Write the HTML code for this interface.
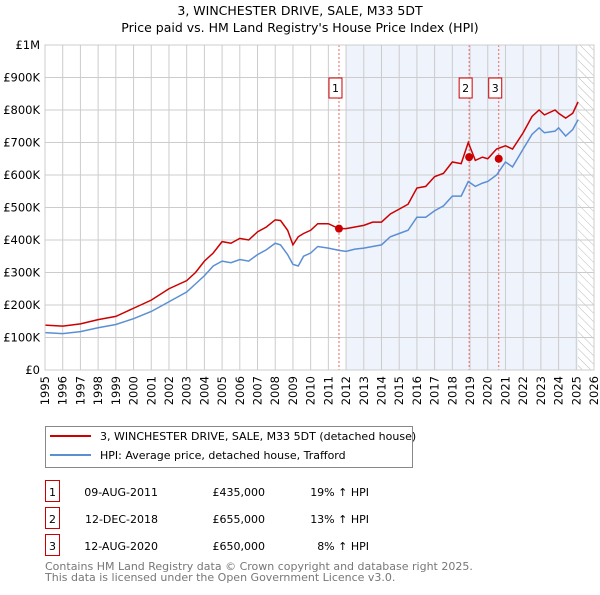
<!DOCTYPE html>
<html><head><meta charset="utf-8"><style>
body{margin:0;background:#fff;font-family:"Liberation Sans","DejaVu Sans",sans-serif;}
svg text{font-family:"DejaVu Sans","Liberation Sans",sans-serif;}
</style></head><body>
<svg id="c" width="600" height="590" xmlns="http://www.w3.org/2000/svg">
<defs><pattern id="hatch" width="6" height="6" patternUnits="userSpaceOnUse" patternTransform="rotate(-45)"><line x1="0" y1="0" x2="0" y2="6" stroke="#bbb" stroke-width="1"/></pattern></defs>
<text x="300" y="15" text-anchor="middle" font-size="12.5">3, WINCHESTER DRIVE, SALE, M33 5DT</text>
<text x="300" y="32" text-anchor="middle" font-size="12.5">Price paid vs. HM Land Registry's House Price Index (HPI)</text>
<g id="plot"></g>
<g>
<rect x="45.5" y="426.5" width="367" height="41" fill="#fff" stroke="#888"/>
<line x1="50" y1="436" x2="91" y2="436" stroke="#cc0000" stroke-width="2"/>
<text x="100" y="440" font-size="11">3, WINCHESTER DRIVE, SALE, M33 5DT (detached house)</text>
<line x1="50" y1="455" x2="91" y2="455" stroke="#5b8fd4" stroke-width="2"/>
<text x="100" y="459" font-size="11">HPI: Average price, detached house, Trafford</text>
</g>
<g id="table" font-size="11"></g>
<text x="45" y="570" font-size="11" fill="#777">Contains HM Land Registry data © Crown copyright and database right 2025.</text>
<text x="45" y="581" font-size="11" fill="#777">This data is licensed under the Open Government Licence v3.0.</text>
</svg>
<script>
const yTicks=[0,100,200,300,400,500,600,700,800,900,1000];
const yTickLabels=["£0","£100K","£200K","£300K","£400K","£500K","£600K","£700K","£800K","£900K","£1M"];
const years=[1995,1996,1997,1998,1999,2000,2001,2002,2003,2004,2005,2006,2007,2008,2009,2010,2011,2012,2013,2014,2015,2016,2017,2018,2019,2020,2021,2022,2023,2024,2025,2026];
const hpiT=[1995,1996,1997,1998,1999,2000,2001,2002,2003,2003.5,2004,2004.5,2005,2005.5,2006,2006.5,2007,2007.5,2008,2008.3,2008.7,2009,2009.3,2009.6,2010,2010.4,2011,2011.6,2012,2012.5,2013,2013.5,2014,2014.5,2015,2015.5,2016,2016.5,2017,2017.5,2018,2018.5,2018.9,2019.3,2019.7,2020,2020.5,2021,2021.4,2022,2022.5,2022.9,2023.2,2023.8,2024,2024.4,2024.8,2025.1];
const hpiV=[115,112,118,130,140,158,180,210,240,265,290,320,335,330,340,335,355,370,390,385,355,325,320,350,360,380,375,368,365,372,375,380,385,410,420,430,470,470,490,505,535,535,580,565,575,580,600,640,625,680,725,745,730,735,745,720,740,770];
const priceT=hpiT;
const priceV=[138,135,142,155,165,190,215,250,275,300,335,360,395,390,405,400,425,440,462,460,430,385,410,420,430,450,450,435,435,440,445,455,455,480,495,510,560,565,595,605,640,635,700,645,655,650,680,690,680,730,780,800,785,800,790,775,790,825];
const saleT=[2011.6,2018.95,2020.62];
const saleV=[435,655,650];
const saleLabels=["1","2","3"];
const saleDates=["09-AUG-2011","12-DEC-2018","12-AUG-2020"];
const salePrices=["£435,000","£655,000","£650,000"];
const saleHpi=["19% ↑ HPI","13% ↑ HPI","8% ↑ HPI"];
const X0=45,X1=594,Y0=370,Y1=45;
const x=t=>X0+(t-1995)/(2026-1995)*(X1-X0);
const y=v=>Y0-v/1000*(Y0-Y1);
const NS="http://www.w3.org/2000/svg";
const plot=document.getElementById('plot');
function mk(tag,attrs,parent){const e=document.createElementNS(NS,tag);for(const k in attrs)e.setAttribute(k,attrs[k]);(parent||plot).appendChild(e);return e;}
let e;
e=mk('rect',{x:x(2012),y:Y1,width:x(2025.1)-x(2012),height:Y0-Y1,fill:'#eef3fc'});


e=mk('rect',{x:x(2025.1),y:Y1,width:X1-x(2025.1),height:Y0-Y1,fill:'url(#hatch)'});


years.forEach(yr=>{
 e=mk('line',{x1:x(yr),x2:x(yr),y1:Y1,y2:Y0,stroke:'#ccc','stroke-width':1});
 
 
 e=mk('text',{transform:`translate(${x(yr)+4},${Y0+6}) rotate(-90)`,'text-anchor':'end','font-size':11.5});
 e.textContent=yr;
 
 
});
yTicks.forEach((v,i)=>{
 e=mk('line',{x1:X0,x2:X1,y1:y(v),y2:y(v),stroke:'#ccc','stroke-width':1});
 
 
 e=mk('text',{x:X0-5,y:y(v)+4,'text-anchor':'end','font-size':11.5});
 e.textContent=yTickLabels[i];
 
 
});
saleT.forEach((t,i)=>{
 e=mk('line',{x1:x(t),x2:x(t),y1:Y1,y2:Y0,stroke:'#e66','stroke-width':1,'stroke-dasharray':'2,2'});
 
 
});
e=mk('polyline',{points:hpiT.map((t,i)=>x(t)+','+y(hpiV[i])).join(' '),fill:'none',stroke:'#5b8fd4','stroke-width':1.5});


e=mk('polyline',{points:priceT.map((t,i)=>x(t)+','+y(priceV[i])).join(' '),fill:'none',stroke:'#cc0000','stroke-width':1.5});


saleT.forEach((t,i)=>{
 e=mk('circle',{cx:x(t),cy:y(saleV[i]),r:4,fill:'#cc0000'});
 
 
 const g=mk('g',{});
 
 
 mk('rect',{x:x(t)-10,y:78,width:13,height:20,fill:'#fff',stroke:'#cc0000'},g);
 const tx=mk('text',{x:x(t)-3.5,y:92,'text-anchor':'middle','font-size':11},g);
 tx.textContent=saleLabels[i];
});
e=mk('rect',{x:X0,y:Y1,width:X1-X0,height:Y0-Y1,fill:'none',stroke:'#ccc'});


const tbl=document.getElementById('table');
const rowY=[492,519,546];
saleT.forEach((t,i)=>{
 const g=mk('g',{},tbl);
 
 
 mk('rect',{x:45.5,y:rowY[i]-11.5,width:14,height:21,fill:'#fff',stroke:'#cc0000'},g);
 let tx=mk('text',{x:52.5,y:rowY[i]+4,'text-anchor':'middle'},g);tx.textContent=saleLabels[i];
 tx=mk('text',{x:158,y:rowY[i]+4,'text-anchor':'end'},g);tx.textContent=saleDates[i];
 tx=mk('text',{x:265,y:rowY[i]+4,'text-anchor':'end'},g);tx.textContent=salePrices[i];
 tx=mk('text',{x:369,y:rowY[i]+4,'text-anchor':'end'},g);tx.textContent=saleHpi[i];
});
</script>
</body></html>
